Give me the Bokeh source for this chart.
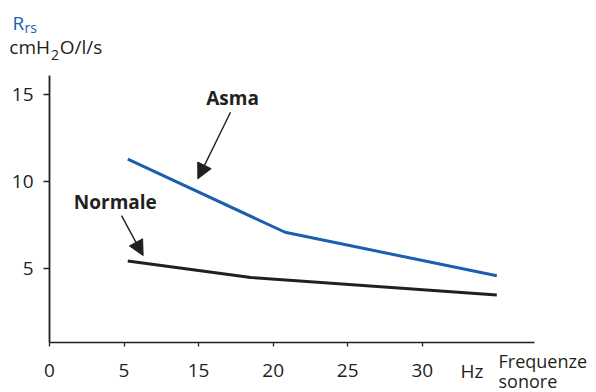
from bokeh.plotting import figure
from bokeh.models import Range1d, FixedTicker, Label, Arrow, NormalHead
from bokeh.embed import file_html
from bokeh.resources import INLINE

# Schematic frequency axis: evenly spaced ticks carrying these labels
X_TICKS = [0, 5, 10, 15, 20, 25]
X_TICK_LABELS = ["0", "5", "15", "20", "25", "30"]
Y_TICKS = [5, 10, 15]

# Respiratory resistance curves (position on the frequency axis, Rrs in cmH2O/l/s)
asma_x = [5.25, 15.8, 30.0]
asma_y = [11.3, 7.1, 4.6]
normale_x = [5.25, 13.5, 30.0]
normale_y = [5.45, 4.5, 3.5]

INK = "#231f20"
BLUE = "#1b5fae"
FONT = "Open Sans"

W, H = 596, 392
# Extent of the drawn axes in data units
X_MIN, X_MAX = 0.0, 32.53
Y_MIN, Y_MAX = 0.764, 16.11
# pixels per data unit and where the axes' origin sits on the canvas
SX, SY = 14.91, 17.4
OX, OY = 49, 342

# The frame fills the whole canvas; the axes sit at fixed positions inside it
p = figure(width=W, height=H, output_backend="svg", toolbar_location=None,
           x_range=Range1d(X_MIN - OX / SX, X_MIN + (W - OX) / SX),
           y_range=Range1d(Y_MIN - (H - OY) / SY, Y_MIN + OY / SY),
           min_border=0, min_border_left=0, min_border_right=0,
           min_border_top=0, min_border_bottom=0)
p.title.visible = False
p.outline_line_color = None
p.xgrid.visible = False
p.ygrid.visible = False
p.background_fill_color = "white"
p.border_fill_color = "white"

xa = p.xaxis[0]
xa.fixed_location = Y_MIN
xa.bounds = (X_MIN, X_MAX)
xa.ticker = FixedTicker(ticks=X_TICKS)
xa.major_label_overrides = {t: lab for t, lab in zip(X_TICKS, X_TICK_LABELS)}
xa.axis_line_color = INK
xa.axis_line_width = 1.3
xa.major_tick_line_color = INK
xa.major_tick_line_width = 1.3
xa.major_tick_out = 4
xa.major_tick_in = 0
xa.minor_tick_line_color = None
xa.major_label_text_font = FONT
xa.major_label_text_font_size = "19px"
xa.major_label_text_color = INK
xa.major_label_standoff = 17

ya = p.yaxis[0]
ya.fixed_location = X_MIN
ya.bounds = (Y_MIN, Y_MAX)
ya.ticker = FixedTicker(ticks=Y_TICKS)
ya.axis_line_color = INK
ya.axis_line_width = 1.8
ya.major_tick_line_color = INK
ya.major_tick_line_width = 1.3
ya.major_tick_out = 6
ya.major_tick_in = 0
ya.minor_tick_line_color = None
ya.major_label_text_font = FONT
ya.major_label_text_font_size = "19px"
ya.major_label_text_color = INK
ya.major_label_standoff = 10

p.line(asma_x, asma_y, line_color=BLUE, line_width=3)
p.line(normale_x, normale_y, line_color=INK, line_width=3)


def label(x, y, text, size="19px", color=INK, style="normal", align="left",
          units="data"):
    p.add_layout(Label(x=x, y=y, x_units=units, y_units=units, text=text,
                       text_font=FONT, text_font_size=size,
                       text_color=color, text_font_style=style,
                       text_align=align, text_baseline="alphabetic"))


# Axis titles, placed in canvas pixels around the axes
label(12, 22.5, "R", color=BLUE, units="canvas")
label(24, 26.5, "rs", size="14px", color=BLUE, units="canvas")
label(49.5, 46.5, "cmH", align="right", units="canvas")
label(50.5, 54, "2", size="14px", units="canvas")
label(59.3, 46.5, "O/l/s", units="canvas")
label(460, 370, "Hz", units="canvas")
label(498, 360, "Frequenze", size="18px", units="canvas")
label(498, 380, "sonore", size="18px", units="canvas")

# Curve labels with pointers
label(10.51, 14.79, "Asma", style="bold")
label(1.63, 8.85, "Normale", style="bold")

for xs, ys, xe, ye in [(12.14, 14.0, 9.95, 10.17), (4.83, 8.06, 6.28, 5.76)]:
    p.add_layout(Arrow(x_start=xs, y_start=ys, x_end=xe, y_end=ye,
                       line_color=INK, line_width=1.4,
                       end=NormalHead(size=15, fill_color=INK, line_color=INK,
                                      line_width=1)))

open("out.html", "w").write(file_html(p, INLINE))
